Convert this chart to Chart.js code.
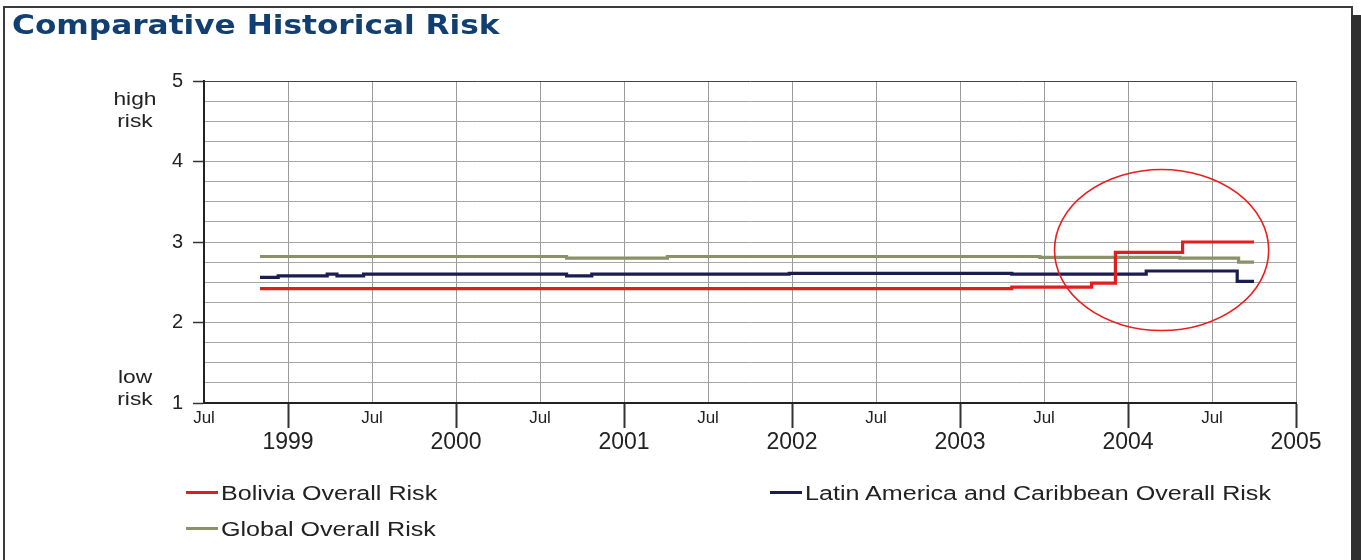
<!DOCTYPE html>
<html>
<head>
<meta charset="utf-8">
<title>Comparative Historical Risk</title>
<script src="https://cdn.jsdelivr.net/npm/chart.js@4.4.1/dist/chart.umd.min.js"></script>
<style>
  html, body { margin: 0; padding: 0; background: #fff; }
  body { width: 1361px; height: 560px; position: relative; overflow: hidden; font-family: "Liberation Sans", Arial, sans-serif; }
  .frame { position: absolute; left: 3px; top: 6px; width: 1346px; height: 560px; border: 2px solid #3a3a3a; border-bottom: none; }
  .shadow { position: absolute; left: 1351px; top: 15px; width: 10px; height: 545px; background: #2f2f2f; }
  #chart { position: absolute; left: 0; top: 0; }
  .title { position: absolute; left: 12px; top: 10px; font-family: "DejaVu Sans", Verdana, sans-serif; font-weight: bold; font-size: 26px; color: #123f72; white-space: nowrap; transform: scaleX(1.2); transform-origin: left center; }
  .ylab { position: absolute; font-size: 19px; color: #222; text-align: center; line-height: 22px; width: 60px; transform: scaleX(1.2); transform-origin: center center; }
  .leg { position: absolute; height: 24px; }
  .leg .sw { position: absolute; left: 0; top: 10px; width: 32px; height: 3px; }
  .leg .tx { position: absolute; left: 35px; top: 0; font-size: 20px; line-height: 24px; color: #222; white-space: nowrap; transform: scaleX(1.255); transform-origin: left center; }
</style>
</head>
<body>
<div class="frame"></div>
<div class="shadow"></div>
<canvas id="chart" width="1361" height="560"></canvas>
<div class="title">Comparative Historical Risk</div>
<div class="ylab" style="left:105px; top:88px;">high<br>risk</div>
<div class="ylab" style="left:105px; top:366px;">low<br>risk</div>
<div id="legend"></div>
<script>
// Months are counted from July 1998 (0 = Jul 1998, 6 = Jan 1999, ...).
const startYear = 1998;
const tickStep = 6;

// Change points of each stepped risk series (value holds until the next point)
const boliviaMonths = [4, 57.7, 63.4, 65.1, 69.9, 75];
const boliviaRisk   = [2.42, 2.44, 2.49, 2.87, 3.00, 3.00];

const latamMonths = [4, 5.3, 8.8, 9.5, 11.4, 25.9, 27.7, 41.8, 57.7, 67.3, 73.8, 75];
const latamRisk   = [2.56, 2.58, 2.60, 2.58, 2.60, 2.58, 2.60, 2.61, 2.60, 2.64, 2.51, 2.51];

const globalMonths = [4, 25.9, 33.1, 59.7, 69.7, 73.9, 75];
const globalRisk   = [2.82, 2.80, 2.82, 2.81, 2.80, 2.75, 2.75];

const seriesNames  = ['Bolivia Overall Risk', 'Latin America and Caribbean Overall Risk', 'Global Overall Risk'];
const seriesColors = ['#e01e1e', '#1b1d52', '#8a9267'];

// Highlight ring around the 2004 movement: centre (month, risk) and radii
const ringCenter = [68.4, 2.90];
const ringRadius = [7.65, 1.0];

const toPoints = (xs, ys) => xs.map((m, i) => ({ x: m, y: ys[i] }));
const FONT = '"Liberation Sans", Arial, sans-serif';

const ringPlugin = {
  id: 'ring',
  afterDatasetsDraw(chart) {
    const { ctx, scales: { x, y } } = chart;
    const cx = x.getPixelForValue(ringCenter[0]);
    const cy = y.getPixelForValue(ringCenter[1]);
    const rx = x.getPixelForValue(ringCenter[0] + ringRadius[0]) - cx;
    const ry = cy - y.getPixelForValue(ringCenter[1] + ringRadius[1]);
    ctx.save();
    ctx.beginPath();
    ctx.ellipse(cx, cy, rx, ry, 0, 0, Math.PI * 2);
    ctx.strokeStyle = '#ee1c1c';
    ctx.lineWidth = 1.6;
    ctx.stroke();
    ctx.restore();
  }
};

const datasets = [
  { label: seriesNames[0], data: toPoints(boliviaMonths, boliviaRisk), borderColor: seriesColors[0] },
  { label: seriesNames[1], data: toPoints(latamMonths, latamRisk), borderColor: seriesColors[1] },
  { label: seriesNames[2], data: toPoints(globalMonths, globalRisk), borderColor: seriesColors[2] }
].map(d => Object.assign(d, { stepped: true, borderWidth: 3.2, pointRadius: 0, fill: false, tension: 0 }));

new Chart(document.getElementById('chart'), {
  type: 'line',
  data: { datasets },
  options: {
    responsive: false,
    animation: false,
    devicePixelRatio: 1,
    layout: { padding: { left: 104, top: 81, right: 65, bottom: 0 } },
    plugins: { legend: { display: false }, tooltip: { enabled: false } },
    scales: {
      x: {
        type: 'linear',
        min: 0,
        max: 78,
        afterFit: s => { s.height = 157; },
        border: { color: '#222', width: 2 },
        grid: {
          color: '#9a9a9a',
          lineWidth: 1,
          tickLength: 25,
          tickWidth: 2,
          tickColor: c => (c.tick && c.tick.value % 12 === 6) ? '#333' : 'rgba(0,0,0,0)'
        },
        ticks: {
          stepSize: tickStep,
          autoSkip: false,
          maxRotation: 0,
          padding: -20,
          color: '#222',
          callback: v => (v % 12 === 6) ? ['', String(startYear + (v + 6) / 12)] : 'Jul',
          font: c => (c.tick && c.tick.value % 12 === 6)
            ? { family: FONT, size: 23, lineHeight: 1.0 }
            : { family: FONT, size: 17, lineHeight: 1.2 }
        }
      },
      y: {
        min: 1,
        max: 5,
        afterFit: s => { s.width = 100; },
        border: { color: '#222', width: 2 },
        grid: {
          color: c => (c.tick && c.tick.value === 5) ? '#444' : '#a6a6a6',
          lineWidth: 1,
          tickLength: 11,
          tickWidth: 1.5,
          tickColor: c => (c.tick && Number.isInteger(c.tick.value)) ? '#333' : 'rgba(0,0,0,0)'
        },
        ticks: {
          stepSize: 0.25,
          autoSkip: false,
          padding: 10,
          color: '#222',
          font: { family: FONT, size: 20 },
          callback: v => Number.isInteger(v) ? String(v) : ''
        }
      }
    }
  },
  plugins: [ringPlugin]
});

// Legend laid out in two columns below the plot
const legendSpots = [[186, 481], [770, 481], [186, 517]];
const legend = document.getElementById('legend');
seriesNames.forEach((name, i) => {
  const item = document.createElement('div');
  item.className = 'leg';
  item.style.left = legendSpots[i][0] + 'px';
  item.style.top = legendSpots[i][1] + 'px';
  item.innerHTML = '<div class="sw" style="background:' + seriesColors[i] + '"></div><div class="tx"></div>';
  item.querySelector('.tx').textContent = name;
  legend.appendChild(item);
});
</script>
</body>
</html>
